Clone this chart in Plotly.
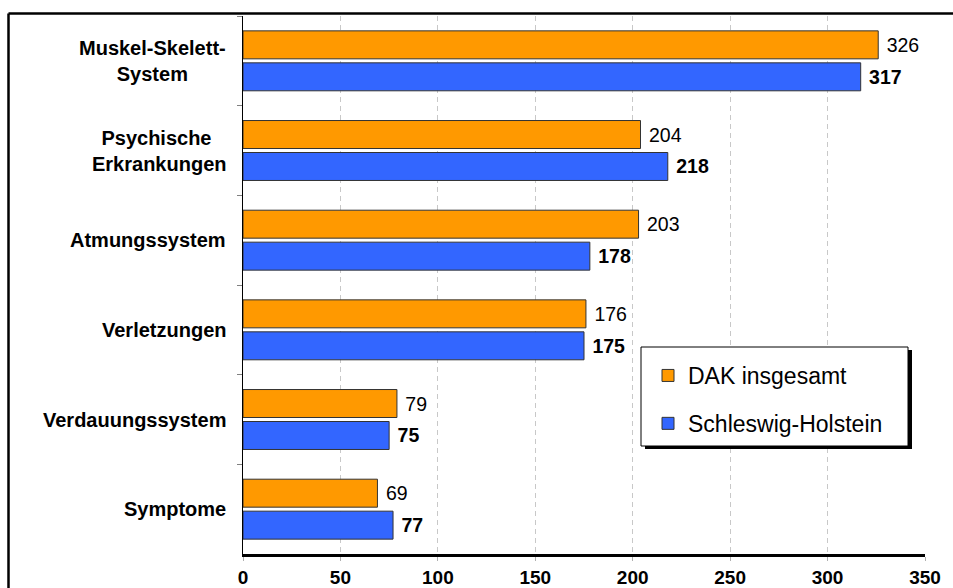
import plotly.graph_objects as go

categories = ["Muskel-Skelett-<br>System", "Psychische <br>Erkrankungen", "Atmungssystem",
              "Verletzungen", "Verdauungssystem", "Symptome"]
dak_values = [326, 204, 203, 176, 79, 69]
sh_values = [317, 218, 178, 175, 75, 77]
series_names = ["DAK insgesamt", "Schleswig-Holstein"]
x_ticks = [0, 50, 100, 150, 200, 250, 300, 350]

W, H = 953, 588
L, R, T, B = 243, 28, 16, 34
PW, PH = W - L - R, H - T - B


def px(xp):
    return (xp - L) / PW


def py(yp):
    return (H - B - yp) / PH


FONT = "Liberation Sans, Arial, sans-serif"

fig = go.Figure()
fig.add_trace(go.Bar(
    y=categories, x=dak_values, orientation="h", name=series_names[0],
    legendgroup="a",
    marker=dict(color="#FF9900", line=dict(color="#333333", width=1)),
    text=dak_values, texttemplate=" %{x}", textposition="outside",
    textfont=dict(family=FONT, size=19.5, color="black"),
    constraintext="none", cliponaxis=False,
))
fig.add_trace(go.Bar(
    y=categories, x=sh_values, orientation="h", name=series_names[1],
    legendgroup="b",
    marker=dict(color="#3366FF", line=dict(color="#333333", width=1)),
    text=sh_values, texttemplate=" <b>%{x}</b>", textposition="outside",
    textfont=dict(family=FONT, size=19.5, color="black"),
    constraintext="none", cliponaxis=False,
))

annotations = []
for c in categories:
    annotations.append(dict(
        x=px(228), xref="paper", y=c, yref="y", text="<b>%s</b>" % c,
        showarrow=False, xanchor="right", yanchor="middle", align="center",
        font=dict(family=FONT, size=20, color="black"),
    ))

shapes = [
    # outer frame
    dict(type="line", xref="paper", yref="paper", x0=px(8.5), x1=px(960), y0=py(13.5), y1=py(13.5),
         line=dict(color="black", width=2.5)),
    dict(type="line", xref="paper", yref="paper", x0=px(8.5), x1=px(8.5), y0=py(13.5), y1=py(600),
         line=dict(color="black", width=2.5)),
    # legend shadow and box
    dict(type="rect", xref="paper", yref="paper", x0=px(645), x1=px(912), y0=py(350), y1=py(449),
         fillcolor="black", line=dict(width=0), layer="above"),
    dict(type="rect", xref="paper", yref="paper", x0=px(641), x1=px(908), y0=py(347), y1=py(446),
         fillcolor="white", line=dict(color="black", width=1), layer="above"),
]

fig.update_layout(
    width=W, height=H,
    margin=dict(l=L, r=R, t=T, b=B, pad=0, autoexpand=False),
    paper_bgcolor="white", plot_bgcolor="white",
    barmode="group", bargap=0.287, bargroupgap=0.125,
    font=dict(family=FONT, color="black"),
    showlegend=True,
    legend=dict(
        x=px(648), y=py(354), xanchor="left", yanchor="top",
        bgcolor="rgba(0,0,0,0)", borderwidth=0,
        font=dict(family=FONT, size=23, color="black"),
        traceorder="grouped", tracegroupgap=15,
    ),
    xaxis=dict(
        range=[0, 350], tickvals=x_ticks, ticktext=["<b>%d</b>" % v for v in x_ticks],
        showgrid=True, gridcolor="#c8c8c8", gridwidth=1, griddash="5px,4px",
        zeroline=False, showline=True, linecolor="black", linewidth=2.5,
        ticks="outside", ticklen=4, tickcolor="#b0b0b0", ticklabelstandoff=0,
        tickfont=dict(family=FONT, size=19, color="black"),
        automargin=False, fixedrange=True,
    ),
    yaxis=dict(
        autorange="reversed", showticklabels=False, tickson="boundaries",
        ticks="outside", ticklen=5, tickcolor="#808080",
        showline=True, linecolor="black", linewidth=1, showgrid=False, zeroline=False,
        automargin=False, fixedrange=True,
    ),
    annotations=annotations,
    shapes=shapes,
)

fig.write_html("out.html")
